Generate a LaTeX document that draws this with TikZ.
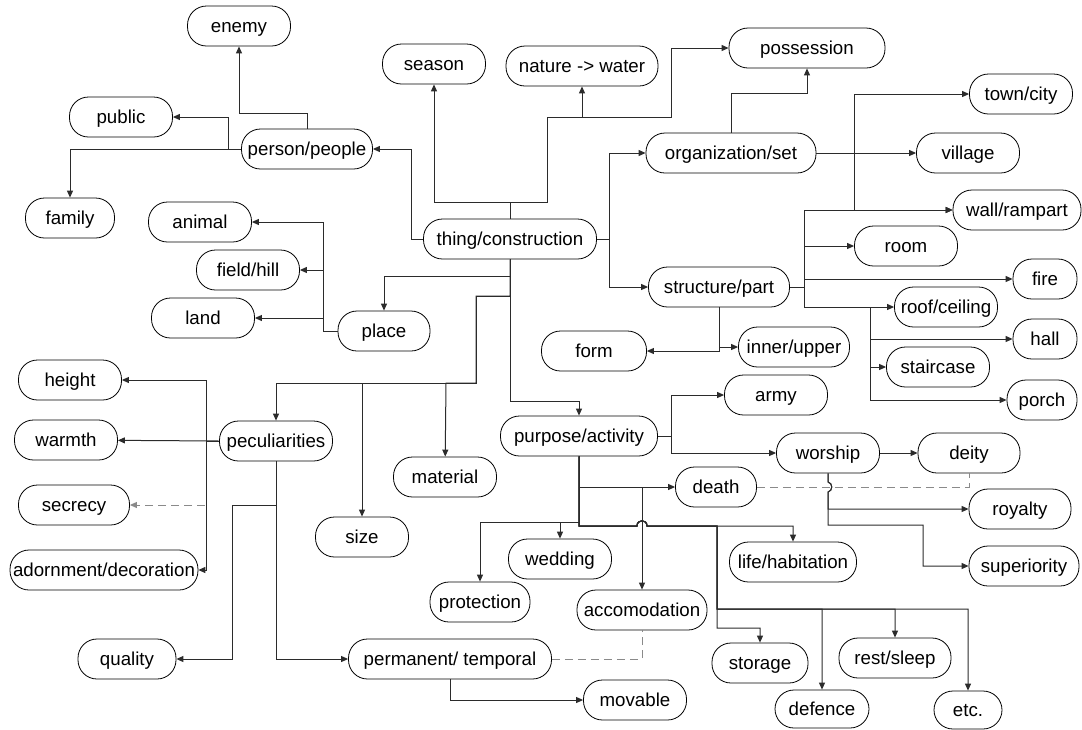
\documentclass[tikz,border=0pt]{standalone}
\usepackage{fontspec}
\setmainfont{Liberation Sans}
\usetikzlibrary{arrows.meta}
\definecolor{lline}{HTML}{2B2B2B}
\definecolor{ldash}{HTML}{8A8A8A}

\begin{document}
\begin{tikzpicture}[x=1pt,y=-1pt,
  every node/.style={font=\fontsize{18.7}{21}\selectfont},
  box/.style={draw=black,line width=0.8pt,fill=white,rounded corners=19pt,
    minimum height=40pt,minimum width=103pt,inner xsep=3pt,inner ysep=0pt,
    text height=14pt,text depth=2pt},
  link/.style={draw=lline,line width=1pt,-{Triangle[length=7pt,width=6pt]}},
  relation/.style={draw=ldash,line width=1pt,dash pattern=on 8pt off 5pt}]
  \useasboundingbox (0,0) rectangle (1082,729);

  % upper left: people
  \node[box] (enemy) at (239,26) {enemy};
  \node[box] (public) at (121,117) {public};
  \node[box,minimum width=131pt] (person) at (307,149) {person/people};
  \node[box,minimum width=89pt] (family) at (70,218) {family};

  % place and its kinds
  \node[box] (animal) at (200,222) {animal};
  \node[box] (field) at (248,270) {field/hill};
  \node[box] (land) at (203,318) {land};
  \node[box,minimum width=92pt] (place) at (384,331) {place};

  % centre
  \node[box] (season) at (434,64) {season};
  \node[box,minimum width=152pt] (nature) at (582,66) {nature -> water};
  \node[box,minimum width=156pt] (possession) at (807,48) {possession};
  \node[box,minimum width=173pt] (thing) at (510,239) {thing/construction};

  % organization and structure
  \node[box,minimum width=170pt] (org) at (731,153) {organization/set};
  \node[box] (town) at (1021,94) {town/city};
  \node[box] (village) at (968,153) {village};
  \node[box,minimum width=128pt] (wall) at (1017,210) {wall/rampart};
  \node[box] (room) at (906,246) {room};
  \node[box,minimum width=141pt] (struct) at (719,287) {structure/part};
  \node[box,minimum width=64pt] (fire) at (1045,279) {fire};
  \node[box] (roof) at (946,307) {roof/ceiling};
  \node[box,minimum width=64pt] (hall) at (1045,339) {hall};
  \node[box] (stair) at (938,367) {staircase};
  \node[box,minimum width=70pt] (porch) at (1042,400) {porch};
  \node[box,minimum width=105pt] (form) at (594,351) {form};
  \node[box,minimum width=111pt] (inner) at (794,347) {inner/upper};

  % peculiarities
  \node[box] (height) at (70,380) {height};
  \node[box] (warmth) at (66,440) {warmth};
  \node[box,minimum width=111pt] (secrecy) at (74,505) {secrecy};
  \node[box,minimum width=187pt] (adorn) at (104,570) {adornment/decoration};
  \node[box,minimum width=113pt] (pec) at (276,441) {peculiarities};
  \node[box] (material) at (445,477) {material};
  \node[box,minimum width=93pt] (size) at (362,537) {size};
  \node[box,minimum width=98pt] (quality) at (127,659) {quality};
  \node[box,minimum width=203pt] (perm) at (450,659) {permanent/ temporal};
  \node[box] (movable) at (635,700) {movable};

  % purpose
  \node[box,minimum width=157pt] (purpose) at (579,436) {purpose/activity};
  \node[box] (army) at (776,395) {army};
  \node[box] (worship) at (828,453) {worship};
  \node[box,minimum width=102pt] (deity) at (969,453) {deity};
  \node[box,minimum width=81pt] (death) at (716,487) {death};
  \node[box,minimum width=102pt] (royalty) at (1020,509) {royalty};
  \node[box,minimum width=110pt] (superiority) at (1024,566) {superiority};
  \node[box] (wedding) at (560,559) {wedding};
  \node[box,minimum width=127pt] (life) at (793,562) {life/habitation};
  \node[box,minimum width=100pt] (protection) at (480,602) {protection};
  \node[box,minimum width=130pt] (accom) at (642,610) {accomodation};
  \node[box,minimum width=96pt] (storage) at (760,663) {storage};
  \node[box,minimum width=112pt] (rest) at (895,658) {rest/sleep};
  \node[box,minimum width=94pt,minimum height=38pt] (defence) at (822,709) {defence};
  \node[box,minimum width=68pt,minimum height=38pt] (etc) at (968,710) {etc.};

  % from thing/construction
  \draw[link] (thing.north) -- ++(0,-16) -| (season);
  \draw[link] (thing.north) -- ++(0,-16) -| (547,117) -| (nature);
  \draw[link] (thing.north) -- ++(0,-16) -| (547,117) -| (671,48) -- (possession);
  \draw[link] (thing.west) -| (411,149) -- (person);
  \draw[link] (thing.east) -| (609,153) -- (org);
  \draw[link] (thing.east) -| (609,287) -- (struct);
  \draw[link] (thing.south) |- (384,276) -- (place);
  \draw[link] (thing.south) |- (476,296) |- (276,383) -- (pec);
  \draw[link] (thing.south) |- (476,296) |- (362,383) -- (size);
  \draw[link] (thing.south) |- (476,296) |- (446,383) -- (material);
  \draw[link] (thing.south) |- (579,401) -- (purpose);

  % person/people
  \draw[link] (person.north) |- (239,113) -- (enemy);
  \draw[link] (person.west) -| (228,117) -- (public);
  \draw[link] (person.west) -| (family);

  % place
  \draw[link] (place.west) -| (323,222) -- (animal);
  \draw[link] (place.west) -| (323,270) -- (field);
  \draw[link] (place.west) -| (323,318) -- (land);

  % organization/set
  \draw[link] (org.north) |- (807,93) -- (possession);
  \draw[link] (org.east) -| (854,94) -- (town);
  \draw[link] (org.east) -- (village);
  \draw[link] (org.east) -| (854,210) -- (wall);

  % structure/part
  \draw[link] (struct.south) |- (form);
  \draw[link] (struct.south) |- (inner);
  \draw[link] (struct.east) -| (804,210) -- (wall);
  \draw[link] (struct.east) -| (804,246) -- (room);
  \draw[link] (struct.east) -| (804,279) -- (fire);
  \draw[link] (struct.east) -| (804,307) -- (roof);
  \draw[link] (struct.east) -| (804,307) -| (870,339) -- (hall);
  \draw[link] (struct.east) -| (804,307) -| (870,367) -- (stair);
  \draw[link] (struct.east) -| (804,307) -| (870,400) -- (porch);

  % peculiarities
  \draw[link] (pec.west) -| (206,380) -- (height);
  \draw[link] (pec.west) -- (warmth);
  \draw[relation,-{Triangle[length=7pt,width=6pt]}] (pec.west) -| (206,505) -- (secrecy);
  \draw[link] (pec.west) -| (206,570) -- (adorn);
  \draw[link] (pec.south) |- (232,505) |- (quality);
  \draw[link] (pec.south) |- (perm);
  \draw[link] (perm.south) |- (movable);

  % purpose/activity
  \draw[link] (purpose.east) -| (671,395) -- (army);
  \draw[link] (purpose.east) -| (671,453) -- (worship);
  \draw[link] (purpose.south) |- (death);
  \draw[link] (purpose.south) |- (642,487) -- (accom);
  \draw[link] (purpose.south) |- (480,522) -- (protection);
  \draw[link] (purpose.south) |- (560,522) -- (wedding);
  \draw[link] (purpose.south) |- (637,526) .. controls (637,519) and (647,519) .. (647,526) -| (life);
  \draw[link] (purpose.south) |- (637,526) .. controls (637,519) and (647,519) .. (647,526) -| (717,628) -| (storage);
  \draw[link] (purpose.south) |- (637,526) .. controls (637,519) and (647,519) .. (647,526) -| (717,609) -| (defence);
  \draw[link] (purpose.south) |- (637,526) .. controls (637,519) and (647,519) .. (647,526) -| (717,609) -| (rest);
  \draw[link] (purpose.south) |- (637,526) .. controls (637,519) and (647,519) .. (647,526) -| (717,609) -| (etc);

  % worship
  \draw[link] (worship) -- (deity);
  \draw[link] (worship.south) -- (828,482) .. controls (833,483) and (833,491) .. (828,492) |- (royalty);
  \draw[link] (worship.south) -- (828,482) .. controls (833,483) and (833,491) .. (828,492) |- (923,525) |- (superiority);

  % dashed relations
  \draw[relation] (death.east) -| (deity.south);
  \draw[relation] (perm.east) -| (accom.south);
\end{tikzpicture}
\end{document}
